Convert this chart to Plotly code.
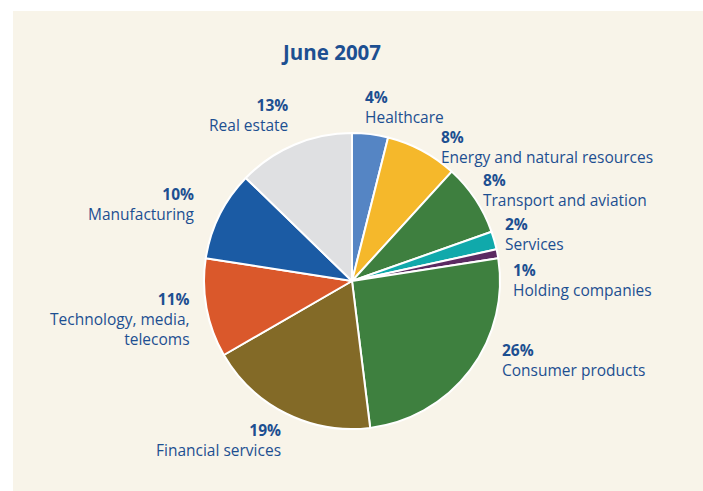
import plotly.graph_objects as go

# Sector breakdown, June 2007 (clockwise from 12 o'clock)
sectors = [
    "Healthcare", "Energy and natural resources", "Transport and aviation",
    "Services", "Holding companies", "Consumer products",
    "Financial services", "Technology, media,<br>telecoms",
    "Manufacturing", "Real estate",
]
shares = [4, 8, 8, 2, 1, 26, 19, 11, 10, 13]
colors = [
    "#5585c4", "#f5b82b", "#3e7f3f", "#10a9ab", "#5b2a62",
    "#3e803f", "#836a27", "#da582b", "#1b5ba4", "#dfe0e2",
]

W, H = 703, 491
TEXT = "#1d4f91"
FONT = "Open Sans, Noto Sans, sans-serif"
SIZE = 15.5
LINE = 1.3 * SIZE  # plotly's line spacing for multi-line text

# label anchor in pixels: (x, y-centre of the percentage line, side)
label_pos = [
    (363, 97, "left"), (439, 137, "left"), (481, 180, "left"),
    (503, 224, "left"), (511, 270, "left"), (500, 350, "left"),
    (283, 430, "right"), (192, 299, "right"), (197, 194, "right"),
    (290, 105, "right"),
]

cx, cy, r = 352, 281, 148

fig = go.Figure(
    go.Pie(
        labels=[s.replace("<br>", " ") for s in sectors],
        values=shares,
        sort=False,
        direction="clockwise",
        rotation=0,
        textinfo="none",
        hoverinfo="label+value",
        marker=dict(colors=colors, line=dict(color="white", width=2)),
        domain=dict(
            x=[(cx - r) / W, (cx + r) / W],
            y=[1 - (cy + r) / H, 1 - (cy - r) / H],
        ),
        showlegend=False,
    )
)


def note(text, px, py, side, size=SIZE):
    return dict(
        text=text, x=px / W, y=1 - py / H, xref="paper", yref="paper",
        xanchor=side, yanchor="middle", align=side, showarrow=False,
        font=dict(family=FONT, size=size, color=TEXT),
    )


annotations = [note("<b>June 2007</b>", 331, 52, "center", size=20.5)]
for name, val, (px, py, side) in zip(sectors, shares, label_pos):
    n_lines = 1 + name.count("<br>") + 1
    mid = py + (n_lines - 1) * LINE / 2
    annotations.append(note(f"<b>{val}%</b><br>{name}", px, mid, side))

fig.update_layout(
    width=W, height=H,
    margin=dict(l=0, r=0, t=0, b=0),
    paper_bgcolor="white",
    plot_bgcolor="white",
    shapes=[dict(
        type="rect", xref="paper", yref="paper",
        x0=13 / W, x1=1, y0=0, y1=1 - 11 / H,
        fillcolor="#f8f4e9", line=dict(width=0), layer="below",
    )],
    annotations=annotations,
)

fig.write_html("out.html")
